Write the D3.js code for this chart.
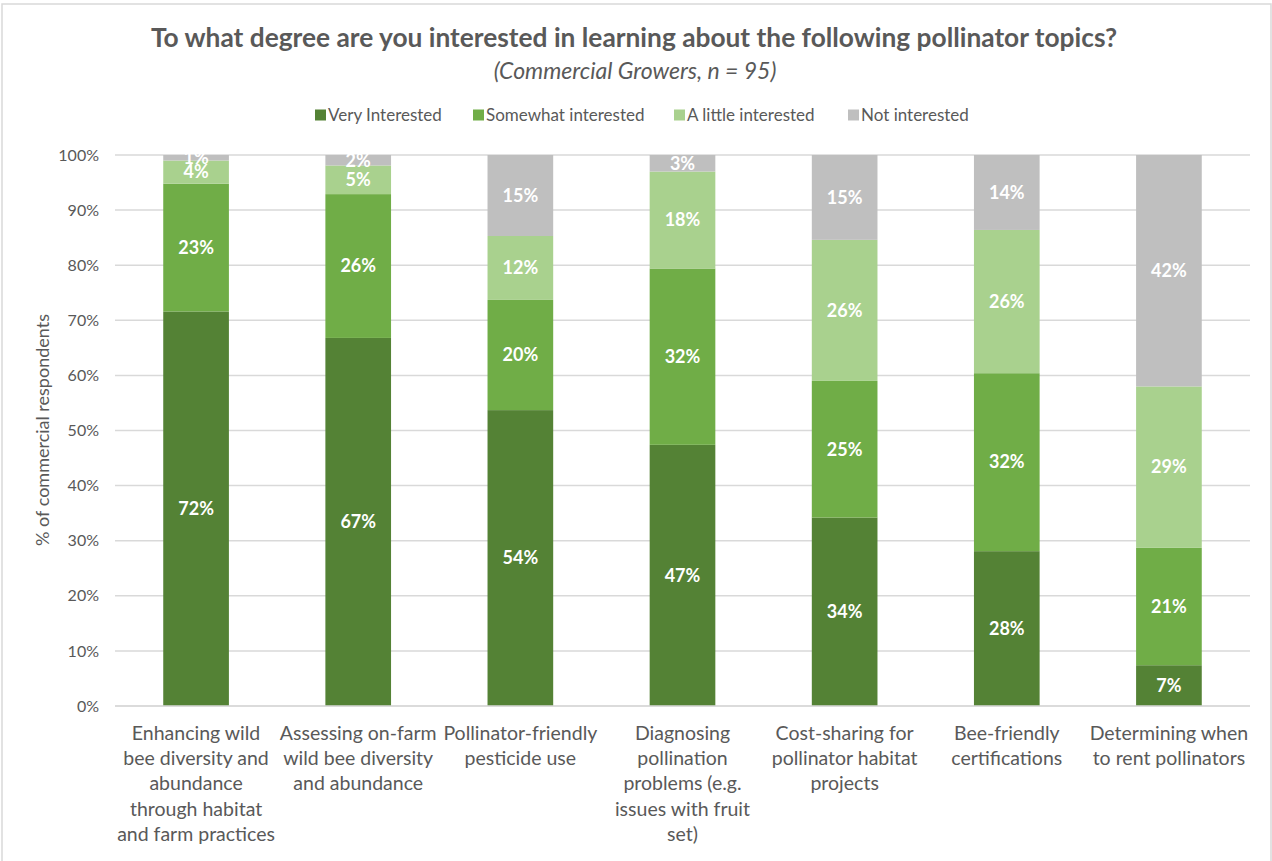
<!DOCTYPE html>
<html><head><meta charset="utf-8">
<script src="https://cdn.jsdelivr.net/npm/d3@7"></script>
<style>body{margin:0;background:#fff;} svg{display:block;}</style>
</head><body>
<svg id="chart" width="1272" height="861"></svg>
<script>
const categories = [
  "Enhancing wild|bee diversity and|abundance|through habitat|and farm practices",
  "Assessing on-farm|wild bee diversity|and abundance",
  "Pollinator-friendly|pesticide use",
  "Diagnosing|pollination|problems (e.g.|issues with fruit|set)",
  "Cost-sharing for|pollinator habitat|projects",
  "Bee-friendly|certifications",
  "Determining when|to rent pollinators"
];
const seriesNames = ["Very Interested", "Somewhat interested", "A little interested", "Not interested"];
const veryInterested     = [71.6, 66.8, 53.7, 47.4, 34.2, 28.1, 7.4];
const somewhatInterested = [23.2, 26.1, 20.0, 32.0, 24.8, 32.3, 21.3];
const littleInterested   = [4.2, 5.2, 11.6, 17.6, 25.6, 26.0, 29.3];
const notInterested      = [1.0, 1.9, 14.7, 3.0, 15.4, 13.6, 42.0];
const yTicks = [0, 10, 20, 30, 40, 50, 60, 70, 80, 90, 100];
const colors = ["#548235", "#70AD47", "#A9D18E", "#BFBFBF"];

const series = [veryInterested, somewhatInterested, littleInterested, notInterested];
const rows = categories.map((c, i) => {
  const r = {cat: c};
  seriesNames.forEach((s, j) => r[s] = series[j][i]);
  return r;
});

const svg = d3.select("#chart");
const font = "Lato, 'Open Sans', sans-serif";
const grey = "#595959";

// outer border
svg.append("rect").attr("x", 2).attr("y", 4).attr("width", 1269).attr("height", 870)
  .attr("fill", "#fff").attr("stroke", "#D9D9D9").attr("stroke-width", 1.5);

const x = d3.scaleBand().domain(categories).range([115, 1250]).paddingInner(0.595).paddingOuter(0.2975);
const y = d3.scaleLinear().domain([0, 100]).range([706, 155]);

// gridlines
svg.append("g").selectAll("line").data(yTicks).join("line")
  .attr("x1", 115).attr("x2", 1250)
  .attr("y1", d => y(d)).attr("y2", d => y(d))
  .attr("stroke", "#D9D9D9").attr("stroke-width", 1.5);

// y axis labels
const yAxis = d3.axisLeft(y).tickValues(yTicks).tickFormat(d => d + "%").tickSize(0).tickPadding(0);
const yg = svg.append("g").attr("transform", "translate(99,0)").call(yAxis);
yg.select(".domain").remove();
yg.selectAll("text").attr("fill", grey).style("font-family", font).style("font-size", "16px");

// stacked bars
const stack = d3.stack().keys(seriesNames)(rows);
const layers = svg.append("g").selectAll("g").data(stack).join("g").attr("fill", (d, i) => colors[i]);
layers.selectAll("rect").data(d => d).join("rect")
  .attr("x", d => x(d.data.cat))
  .attr("width", x.bandwidth())
  .attr("y", d => y(d[1]))
  .attr("height", d => y(d[0]) - y(d[1]));

// value labels
const lab = svg.append("g");
stack.forEach((layer, i) => {
  lab.selectAll(null).data(layer).join("text")
    .attr("x", d => x(d.data.cat) + x.bandwidth() / 2)
    .attr("y", d => (y(d[0]) + y(d[1])) / 2)
    .attr("dy", "0.35em")
    .attr("text-anchor", "middle")
    .attr("fill", "#fff")
    .style("font-family", font).style("font-weight", "bold").style("font-size", "18px")
    .text(d => Math.round(d[1] - d[0]) + "%");
});

// x axis line
svg.append("line").attr("x1", 115).attr("x2", 1250).attr("y1", y(0)).attr("y2", y(0))
  .attr("stroke", "#D9D9D9").attr("stroke-width", 1.5);

// x labels
const xAxis = d3.axisBottom(x).tickSize(0).tickFormat("");
const xg = svg.append("g").attr("transform", `translate(0,${y(0)})`).call(xAxis);
xg.select(".domain").remove();
categories.forEach(c => {
  const t = svg.append("text")
    .attr("text-anchor", "middle")
    .attr("fill", grey)
    .style("font-family", font).style("font-size", "19.5px");
  c.split("|").forEach((line, k) => {
    t.append("tspan").attr("x", x(c) + x.bandwidth() / 2).attr("y", 740 + k * 25.2).text(line);
  });
});

// y axis title
svg.append("text")
  .attr("transform", "translate(49,430) rotate(-90)")
  .attr("text-anchor", "middle")
  .attr("fill", grey)
  .style("font-family", font).style("font-size", "18px")
  .text("% of commercial respondents");

// title
svg.append("text").attr("x", 634).attr("y", 47).attr("text-anchor", "middle")
  .attr("fill", grey).style("font-family", font).style("font-weight", "bold").style("font-size", "26.3px")
  .text("To what degree are you interested in learning about the following pollinator topics?");
svg.append("text").attr("x", 635).attr("y", 79).attr("text-anchor", "middle")
  .attr("fill", grey).style("font-family", font).style("font-style", "italic").style("font-size", "23px")
  .text("(Commercial Growers, n = 95)");

// legend
const legendX = [315, 473, 674, 848];
const lg = svg.append("g").selectAll("g").data(seriesNames).join("g")
  .attr("transform", (d, i) => `translate(${legendX[i]},115)`);
lg.append("rect").attr("x", 0).attr("y", -5.5).attr("width", 11).attr("height", 11).attr("fill", (d, i) => colors[i]);
lg.append("text").attr("x", 13).attr("dy", "0.35em").attr("fill", grey)
  .style("font-family", font).style("font-size", "17px").text(d => d);
</script>
</body></html>
